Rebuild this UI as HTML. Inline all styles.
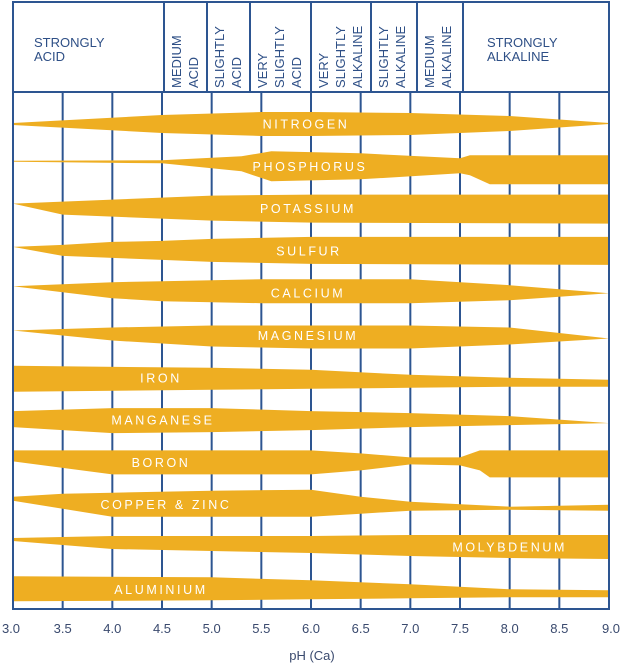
<!DOCTYPE html>
<html><head><meta charset="utf-8"><style>
html,body{margin:0;padding:0;background:#fff;width:623px;height:667px;overflow:hidden}
svg text{font-family:"Liberation Sans",sans-serif}
</style></head><body>
<svg id="chart" width="623" height="667" viewBox="0 0 623 667" xmlns="http://www.w3.org/2000/svg">
<g id="grid"></g>
<g id="bands"></g>
<g id="frame"></g>
<g id="header" fill="#2e4f86" font-size="13"></g>
<g id="labels" fill="#fff" font-size="12.5" letter-spacing="2.6" text-anchor="middle"></g>
<g id="xticks" fill="#3a4a6e" font-size="13" text-anchor="middle"></g>
<text x="312" y="660" fill="#3a4a6e" font-size="13" text-anchor="middle">pH (Ca)</text>
</svg>
<script>
const tickLabels = ["3.0","3.5","4.0","4.5","5.0","5.5","6.0","6.5","7.0","7.5","8.0","8.5","9.0"];
const nutrients = ["NITROGEN","PHOSPHORUS","POTASSIUM","SULFUR","CALCIUM","MAGNESIUM","IRON","MANGANESE","BORON","COPPER & ZINC","MOLYBDENUM","ALUMINIUM"];
const labelPH = [5.95,5.99,5.97,5.98,5.97,5.97,4.49,4.51,4.49,4.54,8.0,4.49];
// availability profiles: pH stops, upper extent, lower extent (relative units)
const nitrogenPH=[3,4.5,5.5,6,7,8,9], nitrogenTop=[1,9,12,12,11,8,1], nitrogenBot=[1,9,12,12,11,7,0];
const phosPH=[3,4.5,5.3,5.6,6.5,7.5,7.6,7.8,9], phosTop=[5.5,6,10,15,13,8,11,11,11], phosBot=[-4.5,-3,5,15,13,7,9,18,18];
const potPH=[3,3.5,4,5,6,9], potTop=[5,7,9,13,14,14], potBot=[-5,6,8,12,14,15];
const sulPH=[3,3.5,4,4.5,5,6,9], sulTop=[4,6,9,10,12,14,14], sulBot=[-4,5,7,9,11,13,14];
const calPH=[3,4,4.5,5.5,7,8,9], calTop=[7,11,12,14,14,8,0], calBot=[-7,5,8,10,10,7,0];
const magPH=[3,4,5,6,7,8,9], magTop=[5,8,10,10,10,8,-3], magBot=[-5,5,11,13,13,9,3];
const ironPH=[3,5,6,7,8,9], ironTop=[12,10,8,3,0,-2], ironBot=[14,12,11,10,9,9];
const mnPH=[3,4,5,6,7,8,9], mnTop=[9,12,12,9,7,4,-3], mnBot=[7,13,12,10,7,5,3];
const boronPH=[3,4,6,6.5,7,7.5,7.7,7.8,9], boronTop=[12,12,12,9,5,5,12,12,12], boronBot=[-1,12,12,8,2,3,8,15,15];
const cuPH=[3,3.5,4,5,6,6.5,7,8,9], cuTop=[8,11,12,14,15,8,3,-2,0], cuBot=[-4,4,12,12,12,9,6,5,6];
const moPH=[3,3.5,4,5,6,7,8,9], moTop=[9,10,11,11,11,12,12,12], moBot=[-6,-2,2,4,6,9,11,12];
const alPH=[3,5,6,7,8,9], alTop=[13,12,9,5,0,-1], alBot=[12,11,10,9,8,8];
const profiles=[[nitrogenPH,nitrogenTop,nitrogenBot],[phosPH,phosTop,phosBot],[potPH,potTop,potBot],[sulPH,sulTop,sulBot],[calPH,calTop,calBot],[magPH,magTop,magBot],[ironPH,ironTop,ironBot],[mnPH,mnTop,mnBot],[boronPH,boronTop,boronBot],[cuPH,cuTop,cuBot],[moPH,moTop,moBot],[alPH,alTop,alBot]];
const headerCats=[["STRONGLY","ACID"],["MEDIUM","ACID"],["SLIGHTLY","ACID"],["VERY","SLIGHTLY","ACID"],["VERY","SLIGHTLY","ALKALINE"],["SLIGHTLY","ALKALINE"],["MEDIUM","ALKALINE"],["STRONGLY","ALKALINE"]];

const NS="http://www.w3.org/2000/svg";
const X0=13,X1=609,plotTop=92,plotBot=609;
const xs=p=>X0+(p-3)*(X1-X0)/6;
const rowY=i=>124+i*42.3;
const amp=v=>v*1.0;
function mk(tag,attrs,parent){const e=document.createElementNS(NS,tag);for(const k in attrs)e.setAttribute(k,attrs[k]);parent.appendChild(e);return e;}
const bands=document.getElementById('bands'),grid=document.getElementById('grid'),frameG=document.getElementById('frame'),header=document.getElementById('header'),labels=document.getElementById('labels'),xticks=document.getElementById('xticks');

profiles.forEach((pr,i)=>{
  const [ph,top,bot]=pr, cy=rowY(i);
  let d='';
  ph.forEach((p,j)=>{d+=(j?'L':'M')+xs(p).toFixed(1)+','+(cy-amp(top[j])).toFixed(1);});
  for(let j=ph.length-1;j>=0;j--)d+='L'+xs(ph[j]).toFixed(1)+','+(cy+amp(bot[j])).toFixed(1);
  const path=mk('path',{d:d+'Z',fill:'#eeae22'},bands);
  
  
  const t=mk('text',{x:xs(labelPH[i]),y:cy+4.5},labels);
  t.textContent=nutrients[i];
  
  
});

const lc='#2d5591';
tickLabels.forEach((lab,i)=>{
  const p=parseFloat(lab),x=xs(p);
  if(i>0&&i<tickLabels.length-1){const l=mk('line',{x1:x,y1:plotTop,x2:x,y2:plotBot,stroke:lc,'stroke-width':2},grid);
  
  }
  const t=mk('text',{x:i===0?x-2:(i===tickLabels.length-1?x+2:x),y:633},xticks);
  t.textContent=lab;
  
  
});
const frame=mk('rect',{x:X0,y:2,width:X1-X0,height:plotBot-2,fill:'none',stroke:lc,'stroke-width':2},frameG);


const hl=mk('line',{x1:X0,y1:plotTop,x2:X1,y2:plotTop,stroke:lc,'stroke-width':2},frameG);


const divX=[164,207,250,311,371,417,463];
divX.forEach(x=>{const l=mk('line',{x1:x,y1:2,x2:x,y2:plotTop,stroke:lc,'stroke-width':2},frameG);

});

const bounds=[X0,...divX,X1];
headerCats.forEach((lines,i)=>{
  const g=mk('g',{},header);
  
  
  if(i===0||i===headerCats.length-1){
    const x=i===0?34:487;
    lines.forEach((s,k)=>{const t=mk('text',{x:x,y:47+k*14},g);t.textContent=s;});
  } else {
    const x0=bounds[i]+17;
    lines.forEach((s,k)=>{const bx=x0+k*17;const t=mk('text',{x:0,y:0,transform:`translate(${bx},88) rotate(-90)`},g);t.textContent=s;});
  }
});
</script>
</body></html>
